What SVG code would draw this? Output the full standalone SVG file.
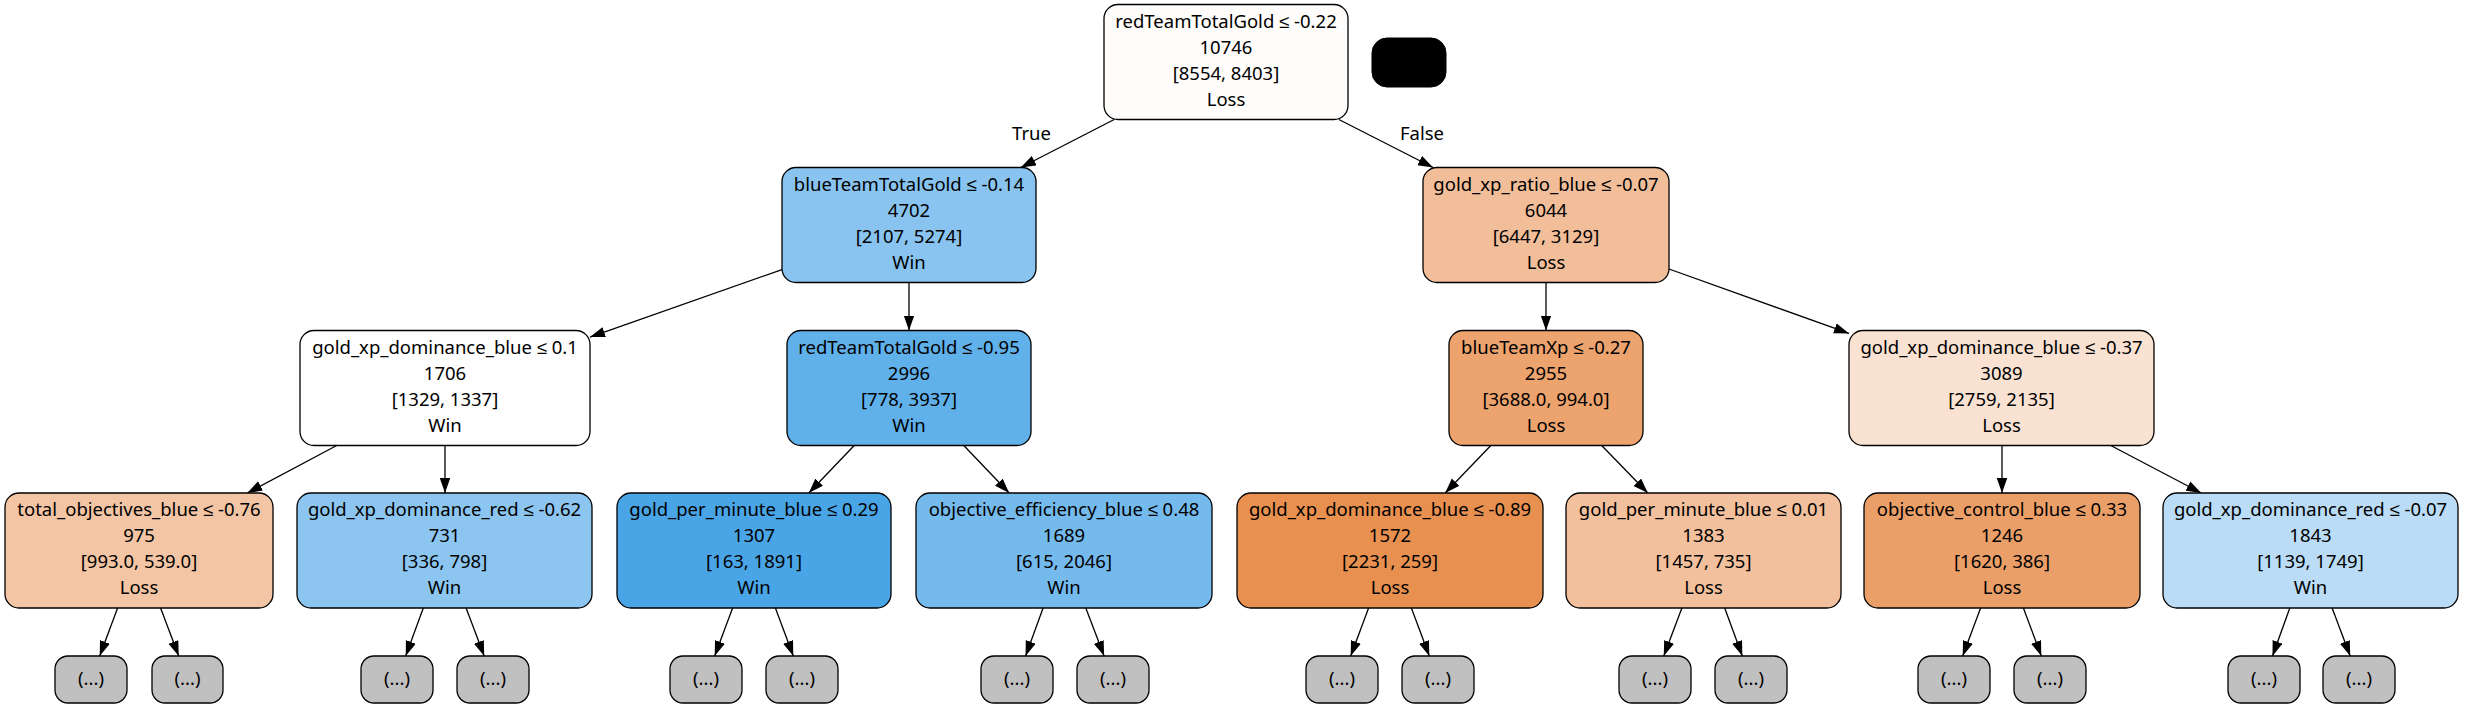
<svg xmlns="http://www.w3.org/2000/svg" width="2465" height="709" viewBox="0 0 2465 709">
<style>
.n{stroke:#000;stroke-width:1.3}
.t{font-family:"Noto Sans","Liberation Sans",sans-serif;font-size:18.5px;text-anchor:middle;fill:#000}
.e line{stroke:#000;stroke-width:1.3;marker-end:url(#ah)}
.lf{fill:#c0c0c0}
</style>
<defs>
<marker id="ah" markerUnits="userSpaceOnUse" markerWidth="15" markerHeight="11" refX="15" refY="5.25" orient="auto">
<path d="M0,0 L15,5.25 L0,10.5 z" fill="#000"/>
</marker>
</defs>
<rect width="2465" height="709" fill="#fff"/>
<g id="edges" class="e">
<line x1="1114.2" y1="119.5" x2="1020.8" y2="167.5"/>
<line x1="1338.9" y1="119.5" x2="1433.1" y2="167.5"/>
<line x1="782" y1="269.6" x2="590" y2="337.1"/>
<line x1="909" y1="282.5" x2="909" y2="330.5"/>
<line x1="1546" y1="282.5" x2="1546" y2="330.5"/>
<line x1="1669" y1="269" x2="1849" y2="333.4"/>
<line x1="336.7" y1="445.5" x2="247.3" y2="493"/>
<line x1="445" y1="445.5" x2="445" y2="493"/>
<line x1="854.2" y1="445.5" x2="808.8" y2="493"/>
<line x1="963.8" y1="445.5" x2="1009.2" y2="493"/>
<line x1="1490.8" y1="445.5" x2="1445.2" y2="493"/>
<line x1="1601.7" y1="445.5" x2="1647.8" y2="493"/>
<line x1="2002" y1="445.5" x2="2002" y2="493"/>
<line x1="2110.8" y1="445.5" x2="2201.2" y2="493"/>
<line x1="117.6" y1="608" x2="99.7" y2="656"/>
<line x1="160.6" y1="608" x2="178.7" y2="656"/>
<line x1="423.3" y1="608" x2="405.7" y2="656"/>
<line x1="466.1" y1="608" x2="484.2" y2="656"/>
<line x1="732.6" y1="608" x2="714.7" y2="656"/>
<line x1="775.4" y1="608" x2="793.3" y2="656"/>
<line x1="1043.1" y1="608" x2="1025.6" y2="656"/>
<line x1="1085.8" y1="608" x2="1104.1" y2="656"/>
<line x1="1368.6" y1="608" x2="1350.7" y2="656"/>
<line x1="1411.4" y1="608" x2="1429.3" y2="656"/>
<line x1="1681.9" y1="608" x2="1663.8" y2="656"/>
<line x1="1724.7" y1="608" x2="1742.3" y2="656"/>
<line x1="1980.6" y1="608" x2="1962.7" y2="656"/>
<line x1="2023.4" y1="608" x2="2041.3" y2="656"/>
<line x1="2289.8" y1="608" x2="2272.5" y2="656"/>
<line x1="2332.1" y1="608" x2="2350.2" y2="656"/>
<text class="t" x="1031.5" y="140">True</text>
<text class="t" x="1422" y="140">False</text>
</g>
<g id="n0"><rect class="n" x="1104" y="4.5" width="244" height="115" rx="14" fill="#fffdfb"/>
<text class="t" x="1226" y="27.5">redTeamTotalGold ≤ -0.22</text><text class="t" x="1226" y="53.5">10746</text><text class="t" x="1226" y="79.5">[8554, 8403]</text><text class="t" x="1226" y="105.5">Loss</text></g>
<g id="nblack"><rect x="1372" y="38" width="74" height="49" rx="15" fill="#000" stroke="#000"/></g>
<g id="n1"><rect class="n" x="782" y="167.5" width="254" height="115" rx="14" fill="#88c4ef"/>
<text class="t" x="909" y="190.5">blueTeamTotalGold ≤ -0.14</text><text class="t" x="909" y="216.5">4702</text><text class="t" x="909" y="242.5">[2107, 5274]</text><text class="t" x="909" y="268.5">Win</text></g>
<g id="n2"><rect class="n" x="1423" y="167.5" width="246" height="115" rx="14" fill="#f2be99"/>
<text class="t" x="1546" y="190.5">gold_xp_ratio_blue ≤ -0.07</text><text class="t" x="1546" y="216.5">6044</text><text class="t" x="1546" y="242.5">[6447, 3129]</text><text class="t" x="1546" y="268.5">Loss</text></g>
<g id="n3"><rect class="n" x="300" y="330.5" width="290" height="115" rx="14" fill="#fefeff"/>
<text class="t" x="445" y="353.5">gold_xp_dominance_blue ≤ 0.1</text><text class="t" x="445" y="379.5">1706</text><text class="t" x="445" y="405.5">[1329, 1337]</text><text class="t" x="445" y="431.5">Win</text></g>
<g id="n4"><rect class="n" x="787" y="330.5" width="244" height="115" rx="14" fill="#60b0ea"/>
<text class="t" x="909" y="353.5">redTeamTotalGold ≤ -0.95</text><text class="t" x="909" y="379.5">2996</text><text class="t" x="909" y="405.5">[778, 3937]</text><text class="t" x="909" y="431.5">Win</text></g>
<g id="n5"><rect class="n" x="1449" y="330.5" width="194" height="115" rx="14" fill="#eca36e"/>
<text class="t" x="1546" y="353.5">blueTeamXp ≤ -0.27</text><text class="t" x="1546" y="379.5">2955</text><text class="t" x="1546" y="405.5">[3688.0, 994.0]</text><text class="t" x="1546" y="431.5">Loss</text></g>
<g id="n6"><rect class="n" x="1849" y="330.5" width="305" height="115" rx="14" fill="#f9e2d2"/>
<text class="t" x="2001.5" y="353.5">gold_xp_dominance_blue ≤ -0.37</text><text class="t" x="2001.5" y="379.5">3089</text><text class="t" x="2001.5" y="405.5">[2759, 2135]</text><text class="t" x="2001.5" y="431.5">Loss</text></g>
<g id="n7"><rect class="n" x="5" y="493" width="268" height="115" rx="14" fill="#f3c5a4"/>
<text class="t" x="139" y="516">total_objectives_blue ≤ -0.76</text><text class="t" x="139" y="542">975</text><text class="t" x="139" y="568">[993.0, 539.0]</text><text class="t" x="139" y="594">Loss</text></g>
<g id="n8"><rect class="n" x="297" y="493" width="295" height="115" rx="14" fill="#8cc6f0"/>
<text class="t" x="444.5" y="516">gold_xp_dominance_red ≤ -0.62</text><text class="t" x="444.5" y="542">731</text><text class="t" x="444.5" y="568">[336, 798]</text><text class="t" x="444.5" y="594">Win</text></g>
<g id="n9"><rect class="n" x="617" y="493" width="274" height="115" rx="14" fill="#4aa5e7"/>
<text class="t" x="754" y="516">gold_per_minute_blue ≤ 0.29</text><text class="t" x="754" y="542">1307</text><text class="t" x="754" y="568">[163, 1891]</text><text class="t" x="754" y="594">Win</text></g>
<g id="n10"><rect class="n" x="916" y="493" width="296" height="115" rx="14" fill="#75baed"/>
<text class="t" x="1064" y="516">objective_efficiency_blue ≤ 0.48</text><text class="t" x="1064" y="542">1689</text><text class="t" x="1064" y="568">[615, 2046]</text><text class="t" x="1064" y="594">Win</text></g>
<g id="n11"><rect class="n" x="1237" y="493" width="306" height="115" rx="14" fill="#e89050"/>
<text class="t" x="1390" y="516">gold_xp_dominance_blue ≤ -0.89</text><text class="t" x="1390" y="542">1572</text><text class="t" x="1390" y="568">[2231, 259]</text><text class="t" x="1390" y="594">Loss</text></g>
<g id="n12"><rect class="n" x="1566" y="493" width="275" height="115" rx="14" fill="#f2c09d"/>
<text class="t" x="1703.5" y="516">gold_per_minute_blue ≤ 0.01</text><text class="t" x="1703.5" y="542">1383</text><text class="t" x="1703.5" y="568">[1457, 735]</text><text class="t" x="1703.5" y="594">Loss</text></g>
<g id="n13"><rect class="n" x="1864" y="493" width="276" height="115" rx="14" fill="#eb9f68"/>
<text class="t" x="2002" y="516">objective_control_blue ≤ 0.33</text><text class="t" x="2002" y="542">1246</text><text class="t" x="2002" y="568">[1620, 386]</text><text class="t" x="2002" y="594">Loss</text></g>
<g id="n14"><rect class="n" x="2163" y="493" width="295" height="115" rx="14" fill="#badcf6"/>
<text class="t" x="2310.5" y="516">gold_xp_dominance_red ≤ -0.07</text><text class="t" x="2310.5" y="542">1843</text><text class="t" x="2310.5" y="568">[1139, 1749]</text><text class="t" x="2310.5" y="594">Win</text></g>
<g id="leaves">
<g id="l1"><rect class="n lf" x="55" y="656" width="72" height="47" rx="13"/><text class="t" x="91" y="685">(...)</text></g>
<g id="l2"><rect class="n lf" x="152" y="656" width="71" height="47" rx="13"/><text class="t" x="187.5" y="685">(...)</text></g>
<g id="l3"><rect class="n lf" x="361" y="656" width="72" height="47" rx="13"/><text class="t" x="397" y="685">(...)</text></g>
<g id="l4"><rect class="n lf" x="457" y="656" width="72" height="47" rx="13"/><text class="t" x="493" y="685">(...)</text></g>
<g id="l5"><rect class="n lf" x="670" y="656" width="72" height="47" rx="13"/><text class="t" x="706" y="685">(...)</text></g>
<g id="l6"><rect class="n lf" x="766" y="656" width="72" height="47" rx="13"/><text class="t" x="802" y="685">(...)</text></g>
<g id="l7"><rect class="n lf" x="981" y="656" width="72" height="47" rx="13"/><text class="t" x="1017" y="685">(...)</text></g>
<g id="l8"><rect class="n lf" x="1077" y="656" width="72" height="47" rx="13"/><text class="t" x="1113" y="685">(...)</text></g>
<g id="l9"><rect class="n lf" x="1306" y="656" width="72" height="47" rx="13"/><text class="t" x="1342" y="685">(...)</text></g>
<g id="l10"><rect class="n lf" x="1402" y="656" width="72" height="47" rx="13"/><text class="t" x="1438" y="685">(...)</text></g>
<g id="l11"><rect class="n lf" x="1619" y="656" width="72" height="47" rx="13"/><text class="t" x="1655" y="685">(...)</text></g>
<g id="l12"><rect class="n lf" x="1715" y="656" width="72" height="47" rx="13"/><text class="t" x="1751" y="685">(...)</text></g>
<g id="l13"><rect class="n lf" x="1918" y="656" width="72" height="47" rx="13"/><text class="t" x="1954" y="685">(...)</text></g>
<g id="l14"><rect class="n lf" x="2014" y="656" width="72" height="47" rx="13"/><text class="t" x="2050" y="685">(...)</text></g>
<g id="l15"><rect class="n lf" x="2228" y="656" width="72" height="47" rx="13"/><text class="t" x="2264" y="685">(...)</text></g>
<g id="l16"><rect class="n lf" x="2323" y="656" width="72" height="47" rx="13"/><text class="t" x="2359" y="685">(...)</text></g>
</g>
</svg>
